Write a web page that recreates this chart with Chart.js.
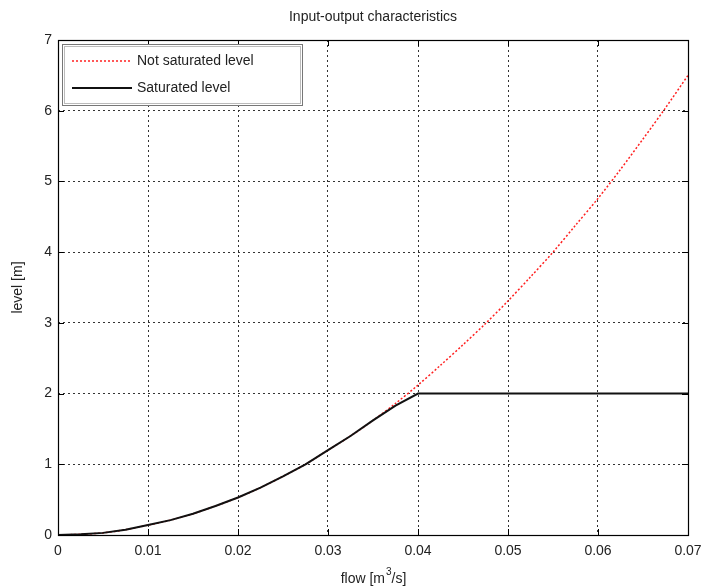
<!DOCTYPE html>
<html><head><meta charset="utf-8">
<script src="https://cdn.jsdelivr.net/npm/chart.js@4"></script>
<style>html,body{margin:0;padding:0;background:#fff}canvas{display:block}</style>
</head><body>
<canvas id="c" width="704" height="587"></canvas>
<script>
const flow = [0,0.0025,0.005,0.0075,0.01,0.0125,0.015,0.0175,0.02,0.0225,0.025,0.0275,0.03,0.0325,0.035,0.0375,0.04,0.0425,0.045,0.0475,0.05,0.0525,0.055,0.0575,0.06,0.0625,0.065,0.0675,0.07];
const notSaturated = [0,0.01,0.03,0.075,0.14,0.21,0.30,0.41,0.53,0.67,0.83,1.00,1.20,1.40,1.62,1.86,2.12,2.40,2.69,2.99,3.31,3.65,4.00,4.38,4.76,5.17,5.60,6.04,6.50];
const saturated = [0,0.01,0.03,0.075,0.14,0.21,0.30,0.41,0.53,0.67,0.83,1.00,1.20,1.40,1.62,1.83,2.00,2.00,2.00,2.00,2.00,2.00,2.00,2.00,2.00,2.00,2.00,2.00,2.00];
const xTicks = [0,0.01,0.02,0.03,0.04,0.05,0.06,0.07];
const xTickLabels = ['0','0.01','0.02','0.03','0.04','0.05','0.06','0.07'];
const yTicks = [0,1,2,3,4,5,6,7];
const seriesNames = ['Not saturated level','Saturated level'];
const titleText = 'Input-output characteristics';
const yTitle = 'level [m]';

const FONT = '"Liberation Sans", Arial, sans-serif';

const framePlugin = {
  id:'frame',
  afterDraw(chart){
    const {ctx, chartArea:a} = chart;
    ctx.save();
    ctx.strokeStyle='#000'; ctx.lineWidth=1.2; ctx.setLineDash([]);
    ctx.strokeRect(a.left+0.5,a.top+0.5,a.right-a.left,a.bottom-a.top);
    const xs=chart.scales.x, ys=chart.scales.y;
    ctx.lineWidth=1;
    xTicks.forEach(v=>{const p=Math.round(xs.getPixelForValue(v))+0.5;
      ctx.beginPath();ctx.moveTo(p,a.bottom);ctx.lineTo(p,a.bottom-6);ctx.moveTo(p,a.top);ctx.lineTo(p,a.top+6);ctx.stroke();});
    yTicks.forEach(v=>{const p=Math.round(ys.getPixelForValue(v))+0.5;
      ctx.beginPath();ctx.moveTo(a.left,p);ctx.lineTo(a.left+6,p);ctx.moveTo(a.right,p);ctx.lineTo(a.right-6,p);ctx.stroke();});
    ctx.fillStyle='#222';
    ctx.font='14px '+FONT; ctx.textAlign='center'; ctx.textBaseline='middle';
    ctx.fillText(titleText,(a.left+a.right)/2,17);
    ctx.font='14px '+FONT;
    const t1='flow [m', t2='3', t3='/s]';
    ctx.textAlign='left';
    const w1=ctx.measureText(t1).width, w3=ctx.measureText(t3).width;
    ctx.font='10px '+FONT; const w2=ctx.measureText(t2).width;
    let x0=(a.left+a.right)/2 - (w1+w2+w3)/2;
    const yb=579;
    ctx.font='14px '+FONT; ctx.fillText(t1,x0,yb);
    ctx.font='10px '+FONT; ctx.fillText(t2,x0+w1+1,yb-7);
    ctx.font='14px '+FONT; ctx.fillText(t3,x0+w1+w2+1,yb);
    ctx.save(); ctx.translate(18,(a.top+a.bottom)/2); ctx.rotate(-Math.PI/2);
    ctx.textAlign='center'; ctx.fillText(yTitle,0,0); ctx.restore();
    const lx=a.left+4, ly=a.top+4, lw=240, lh=61;
    ctx.fillStyle='#fff'; ctx.fillRect(lx,ly,lw,lh);
    ctx.strokeStyle='#777'; ctx.lineWidth=1; ctx.strokeRect(lx+0.5,ly+0.5,lw,lh);
    ctx.strokeStyle='#bbb'; ctx.strokeRect(lx+2.5,ly+2.5,lw-4,lh-4);
    const ds=chart.data.datasets;
    const rows=[ly+17, ly+44];
    [0,1].forEach(i=>{
      const d=ds[i];
      ctx.strokeStyle=d.borderColor; ctx.lineWidth=d.borderWidth;
      ctx.setLineDash(d.borderDash||[]);
      ctx.beginPath(); ctx.moveTo(lx+10,rows[i]); ctx.lineTo(lx+70,rows[i]); ctx.stroke();
      ctx.setLineDash([]);
      ctx.fillStyle='#222'; ctx.font='14px '+FONT; ctx.textAlign='left'; ctx.textBaseline='middle';
      ctx.fillText(seriesNames[i],lx+75,rows[i]);
    });
    ctx.restore();
  }
};

new Chart(document.getElementById('c'),{
  type:'line',
  data:{datasets:[
    {label:seriesNames[0],data:flow.map((f,i)=>({x:f,y:notSaturated[i]})),borderColor:'#ff2020',borderWidth:1.5,borderDash:[2,2],pointRadius:0,tension:0.3,fill:false,order:2},
    {label:seriesNames[1],data:flow.map((f,i)=>({x:f,y:saturated[i]})),borderColor:'#111',borderWidth:2,pointRadius:0,tension:0,fill:false,order:1}
  ]},
  options:{
    responsive:false, animation:false, devicePixelRatio:1,
    layout:{padding:{top:40,right:16,left:0,bottom:0}},
    plugins:{legend:{display:false},tooltip:{enabled:false},title:{display:false}},
    scales:{
      x:{type:'linear',min:0,max:0.07,
        afterBuildTicks(s){s.ticks=xTicks.map(v=>({value:v}));},
        afterFit(s){s.height=52; s.paddingLeft=0; s.paddingRight=0;},
        grid:{color:'#333',lineWidth:1,drawTicks:false},
        border:{display:false,dash:[2,3]},
        ticks:{padding:8,color:'#222',font:{family:FONT,size:14},callback:(v)=>xTickLabels[xTicks.indexOf(v)] ?? ''}
      },
      y:{type:'linear',min:0,max:7,
        afterBuildTicks(s){s.ticks=yTicks.map(v=>({value:v}));},
        afterFit(s){s.width=58; s.paddingTop=0; s.paddingBottom=0;},
        grid:{color:'#333',lineWidth:1,drawTicks:false},
        border:{display:false,dash:[2,3]},
        ticks:{padding:6,color:'#222',font:{family:FONT,size:14},callback:(v)=>String(v)}
      }
    }
  },
  plugins:[framePlugin]
});
</script>
</body></html>
